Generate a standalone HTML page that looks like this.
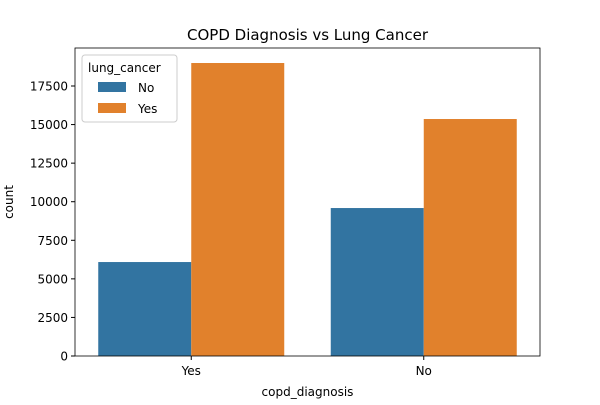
<!DOCTYPE html>
<html><head><meta charset="utf-8"><style>
body{margin:0;background:#fff;font-family:"Liberation Sans","DejaVu Sans",sans-serif;}
svg text{font-family:"DejaVu Sans","Liberation Sans",sans-serif;}
</style></head><body>
<svg id="chart" width="600" height="400" viewBox="0 0 600 400">
<rect width="600" height="400" fill="#fff"/>
<text x="307.5" y="40" font-size="15" text-anchor="middle" fill="#000">COPD Diagnosis vs Lung Cancer</text>
<g id="bars"></g>
<g id="axes"></g>
<text x="307.5" y="396" font-size="12" text-anchor="middle">copd_diagnosis</text>
<text x="13" y="202" font-size="12" text-anchor="middle" transform="rotate(-90 13 202)">count</text>
<g>
<rect x="82" y="55" width="95" height="67" rx="3" fill="#fff" stroke="#ccc"/>
<text x="88" y="72" font-size="12">lung_cancer</text>
<rect x="98" y="82" width="28" height="10" fill="#3274a1"/>
<text x="138" y="92" font-size="12">No</text>
<rect x="98" y="103" width="28" height="10" fill="#e1812c"/>
<text x="138" y="113" font-size="12">Yes</text>
</g>
</svg>
<script>
const categories = ["Yes","No"];
const seriesNo = [6090, 9590];
const seriesYes = [18990, 15360];
const yTicks = [0,2500,5000,7500,10000,12500,15000,17500];
const L=75,R=540,T=48,B=356;
const yScale=v=>B-v*(270/17500);
const groupW=(R-L)/categories.length;
const xCenter=i=>L+groupW*(i+0.5);
const barW=93;
const ns="http://www.w3.org/2000/svg";
const bars=document.getElementById('bars'), axes=document.getElementById('axes');
function mk(tag,attrs,parent){const e=document.createElementNS(ns,tag);for(const k in attrs)e.setAttribute(k,attrs[k]);parent.appendChild(e);return e;}
categories.forEach((c,i)=>{
  const cx=xCenter(i);
  let r=mk('rect',{x:cx-barW,y:yScale(seriesNo[i]),width:barW,height:B-yScale(seriesNo[i]),fill:'#3274a1'},bars);
  
  
  r=mk('rect',{x:cx,y:yScale(seriesYes[i]),width:barW,height:B-yScale(seriesYes[i]),fill:'#e1812c'},bars);
  
  
  mk('line',{x1:cx,x2:cx,y1:B,y2:B+4,stroke:'#000'},axes);
  const t=mk('text',{x:cx,y:B+19,'font-size':12,'text-anchor':'middle'},axes);
  t.textContent=c;
  
  
});
yTicks.forEach(v=>{
  const y=yScale(v);
  mk('line',{x1:L-4,x2:L,y1:y,y2:y,stroke:'#000'},axes);
  const t=mk('text',{x:L-7,y:y+4.5,'font-size':12,'text-anchor':'end'},axes);
  t.textContent=v;
  
  
});
const f=mk('rect',{x:L,y:T,width:R-L,height:B-T,fill:'none',stroke:'#000','stroke-width':0.8},axes);


</script>
</body></html>
